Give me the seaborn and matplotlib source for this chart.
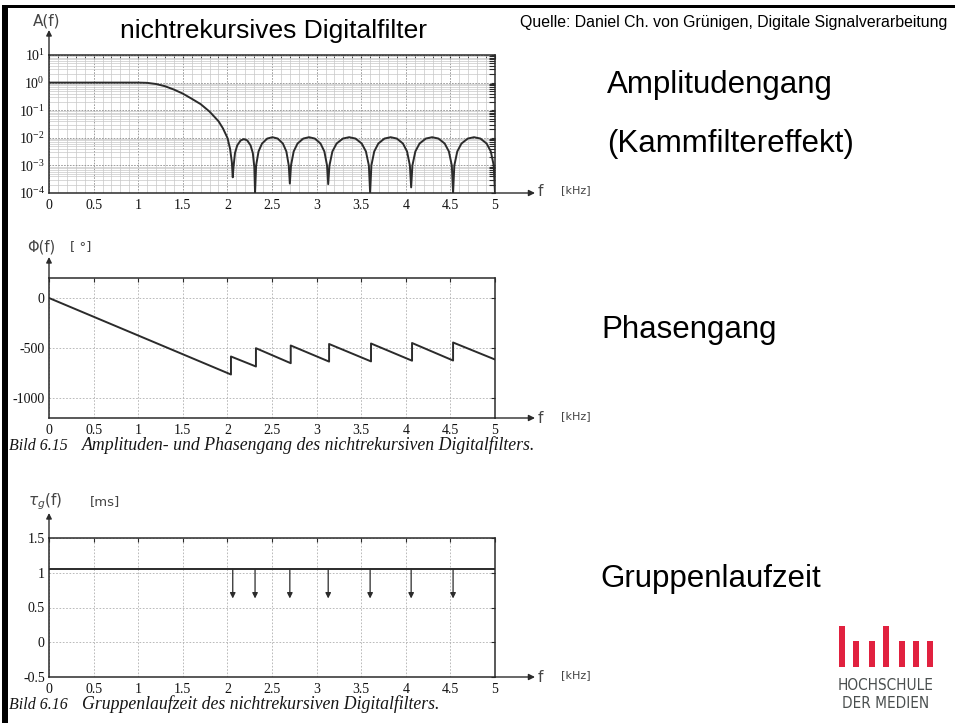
import matplotlib
matplotlib.use("Agg")
import matplotlib.pyplot as plt
import seaborn as sns
import pandas as pd
from matplotlib.ticker import FixedLocator, FixedFormatter, LogLocator, NullFormatter, MultipleLocator
from matplotlib.patches import Rectangle

# ---------------- data ----------------
x_ticks = [0, 0.5, 1, 1.5, 2, 2.5, 3, 3.5, 4, 4.5, 5]
x_tick_labels = ["0", "0.5", "1", "1.5", "2", "2.5", "3", "3.5", "4", "4.5", "5"]

# amplitude response A(f) (log scale)
amp_main_f = [0.0, 0.5, 1.0, 1.1, 1.2, 1.3, 1.4, 1.5, 1.6, 1.7, 1.8, 1.9, 1.95, 2.0, 2.03, 2.05, 2.06]
amp_main_a = [1.0, 1.0, 1.0, 0.98, 0.89, 0.74, 0.56, 0.40, 0.26, 0.166, 0.089, 0.04, 0.022, 0.01, 0.004, 0.0013, 0.00037]
amp_lobe1_f = [2.068, 2.085, 2.11, 2.148, 2.185, 2.223, 2.26, 2.285, 2.302, 2.31]
amp_lobe1_a = [8.5e-4, 2.8e-3, 5.3e-3, 8.0e-3, 9.0e-3, 8.0e-3, 5.3e-3, 2.8e-3, 8.5e-4, 1.0e-4]
amp_lobe2_f = [2.322, 2.349, 2.388, 2.447, 2.505, 2.564, 2.622, 2.661, 2.688, 2.70]
amp_lobe2_a = [9.9e-4, 3.2e-3, 6.2e-3, 9.4e-3, 1.05e-2, 9.4e-3, 6.2e-3, 3.2e-3, 9.9e-4, 2.2e-4]
amp_lobe3_f = [2.713, 2.743, 2.786, 2.851, 2.915, 2.980, 3.044, 3.087, 3.117, 3.13]
amp_lobe3_a = [9.9e-4, 3.2e-3, 6.2e-3, 9.4e-3, 1.05e-2, 9.4e-3, 6.2e-3, 3.2e-3, 9.9e-4, 2.1e-4]
amp_lobe4_f = [3.144, 3.177, 3.224, 3.295, 3.365, 3.436, 3.506, 3.553, 3.586, 3.60]
amp_lobe4_a = [9.9e-4, 3.2e-3, 6.2e-3, 9.4e-3, 1.05e-2, 9.4e-3, 6.2e-3, 3.2e-3, 9.9e-4, 1.0e-4]
amp_lobe5_f = [3.614, 3.646, 3.692, 3.761, 3.83, 3.899, 3.968, 4.014, 4.046, 4.06]
amp_lobe5_a = [9.9e-4, 3.2e-3, 6.2e-3, 9.4e-3, 1.05e-2, 9.4e-3, 6.2e-3, 3.2e-3, 9.9e-4, 1.6e-4]
amp_lobe6_f = [4.074, 4.107, 4.154, 4.225, 4.295, 4.366, 4.436, 4.483, 4.516, 4.53]
amp_lobe6_a = [9.9e-4, 3.2e-3, 6.2e-3, 9.4e-3, 1.05e-2, 9.4e-3, 6.2e-3, 3.2e-3, 9.9e-4, 1.0e-4]
amp_lobe7_f = [4.544, 4.577, 4.624, 4.695, 4.765, 4.836, 4.906, 4.953, 4.986, 5.0]
amp_lobe7_a = [9.9e-4, 3.2e-3, 6.2e-3, 9.4e-3, 1.05e-2, 9.4e-3, 6.2e-3, 3.2e-3, 9.9e-4, 1.0e-4]
amp_yticks = [1e1, 1e0, 1e-1, 1e-2, 1e-3, 1e-4]

# phase response Phi(f) in degrees (jumps of +180 at the zeros)
phase_f = [0.0, 2.04, 2.04, 2.32, 2.32, 2.71, 2.71, 3.14, 3.14, 3.61, 3.61, 4.07, 4.07, 4.53, 4.53, 5.0]
phase_deg = [0, -765, -585, -685, -502, -652, -475, -636, -460, -634, -455, -627, -450, -625, -445, -615]
phase_yticks = [0, -500, -1000]
phase_ytick_labels = ["0", "-500", "-1000"]

# group delay tau_g(f) in ms
gd_f = [0.0, 5.0]
gd_ms = [1.05, 1.05]
gd_zero_f = [2.06, 2.31, 2.70, 3.13, 3.60, 4.06, 4.53]
gd_arrow_tip = 0.63
gd_yticks = [1.5, 1, 0.5, 0, -0.5]
gd_ytick_labels = ["1.5", "1", "0.5", "0", "-0.5"]

# ---------------- style ----------------
sns.set_theme(style="white")
plt.rcParams["font.family"] = ["Liberation Serif", "DejaVu Serif"]
plt.rcParams["axes.unicode_minus"] = False
plt.rcParams["mathtext.fontset"] = "custom"
plt.rcParams["mathtext.rm"] = "Liberation Serif"
plt.rcParams["mathtext.it"] = "Liberation Serif:italic"

W, H = 955, 723
fig = plt.figure(figsize=(W / 100, H / 100), dpi=100)
fig.patch.set_facecolor("white")

def rect(l, t, r, b):
    return [l / W, 1 - b / H, (r - l) / W, (b - t) / H]

def fx(x):
    return x / W

def fy(y):
    return 1 - y / H

INK = "#2b2b2b"
GRID = "#b0b0b0"

def base_axes(ax, yticks, ylabels=None):
    ax.set_xlim(0, 5)
    ax.xaxis.set_major_locator(FixedLocator(x_ticks))
    ax.xaxis.set_major_formatter(FixedFormatter(x_tick_labels))
    ax.yaxis.set_major_locator(FixedLocator(yticks))
    if ylabels is not None:
        ax.yaxis.set_major_formatter(FixedFormatter(ylabels))
    for s in ax.spines.values():
        s.set_color(INK)
        s.set_linewidth(1.1)
        s.set_visible(True)
    ax.tick_params(axis="both", which="major", direction="in", length=3, width=0.8,
                   colors=INK, labelsize=10, labelcolor="#111111", top=True, right=True, pad=3)
    ax.tick_params(axis="x", pad=4)
    ax.set_xlabel("")
    ax.set_ylabel("")
    ax.set_facecolor("white")

def axis_arrows(ax, x_tip_px, y_tip_frac):
    # x-axis extended with an arrow, y-axis extended upward with an arrow
    xr = (x_tip_px - 49) / (495 - 49)
    ax.annotate("", xy=(xr, 0), xytext=(1, 0), xycoords="axes fraction",
                arrowprops=dict(arrowstyle="-|>", color=INK, lw=1.0, mutation_scale=9,
                                shrinkA=0, shrinkB=0))
    ax.annotate("", xy=(0, 1 + y_tip_frac), xytext=(0, 1), xycoords="axes fraction",
                arrowprops=dict(arrowstyle="-|>", color=INK, lw=1.0, mutation_scale=8,
                                shrinkA=0, shrinkB=0))

# ---------------- panel 1: amplitude ----------------
ax1 = fig.add_axes(rect(49, 55, 495, 193))
amp_df = pd.DataFrame({
    "f": amp_main_f + amp_lobe1_f + amp_lobe2_f + amp_lobe3_f + amp_lobe4_f + amp_lobe5_f + amp_lobe6_f + amp_lobe7_f,
    "A": amp_main_a + amp_lobe1_a + amp_lobe2_a + amp_lobe3_a + amp_lobe4_a + amp_lobe5_a + amp_lobe6_a + amp_lobe7_a,
})
ax1.set_yscale("log")
sns.lineplot(data=amp_df, x="f", y="A", ax=ax1, sort=False, estimator=None,
             color=INK, lw=1.4, zorder=5)
ax1.set_ylim(1e-4, 1e1)
base_axes(ax1, amp_yticks)
ax1.yaxis.set_minor_locator(LogLocator(base=10, subs=[2, 3, 4, 5, 6, 7, 8, 9], numticks=20))
ax1.yaxis.set_minor_formatter(NullFormatter())
ax1.xaxis.set_minor_locator(MultipleLocator(0.1))
ax1.tick_params(axis="y", which="minor", direction="in", length=4, width=0.8, colors=INK, right=True)
ax1.tick_params(axis="x", which="minor", direction="in", length=2, width=0.6, colors=INK, top=True)
ax1.grid(True, which="major", color="#8f8f8f", lw=0.6, ls=(0, (2, 1.5)))
ax1.grid(True, which="minor", color="#c8c8c8", lw=0.5, ls="-")
axis_arrows(ax1, 535, 25 / 138)

# ---------------- panel 2: phase ----------------
ax2 = fig.add_axes(rect(49, 278, 495, 418))
phase_df = pd.DataFrame({"f": phase_f, "phi": phase_deg})
sns.lineplot(data=phase_df, x="f", y="phi", ax=ax2, sort=False, estimator=None,
             color=INK, lw=1.4, zorder=5)
ax2.set_ylim(-1200, 200)
base_axes(ax2, phase_yticks, phase_ytick_labels)
ax2.grid(True, which="major", color=GRID, lw=0.6, ls=(0, (2, 2)))
axis_arrows(ax2, 535, 21 / 140)

# ---------------- panel 3: group delay ----------------
ax3 = fig.add_axes(rect(49, 538, 495, 677))
gd_df = pd.DataFrame({"f": gd_f, "tau": gd_ms})
sns.lineplot(data=gd_df, x="f", y="tau", ax=ax3, sort=False, estimator=None,
             color=INK, lw=1.4, zorder=5)
for zf in gd_zero_f:
    ax3.annotate("", xy=(zf, gd_arrow_tip), xytext=(zf, gd_ms[0]), xycoords="data",
                 arrowprops=dict(arrowstyle="-|>", color=INK, lw=0.9, mutation_scale=8,
                                 shrinkA=0, shrinkB=0))
ax3.set_ylim(-0.5, 1.5)
base_axes(ax3, gd_yticks, gd_ytick_labels)
ax3.grid(True, which="major", color=GRID, lw=0.6, ls=(0, (2, 2)))
axis_arrows(ax3, 535, 25 / 139)

# ---------------- axis annotations (hand-lettered in the scan) ----------------
hand = dict(family=["DejaVu Sans"], color="#444444")
fig.text(fx(33), fy(21), "A(f)", fontsize=11, va="center", ha="left", **hand)
fig.text(fx(27), fy(247), "Φ(f)", fontsize=10.5, va="center", ha="left", **hand)
fig.text(fx(70), fy(247), "[ °]", fontsize=9.5, va="center", ha="left", **hand)
fig.text(fx(28), fy(502), r"$\tau_{g}$(f)", fontsize=11, va="center", ha="left",
         math_fontfamily="dejavusans", **hand)
fig.text(fx(90), fy(502), "[ms]", fontsize=9.5, va="center", ha="left", **hand)
for yc in (192, 418, 677):
    fig.text(fx(538), fy(yc), "f", fontsize=11, va="center", ha="left", **hand)
    fig.text(fx(561), fy(yc - 2), "[kHz]", fontsize=8, va="center", ha="left", **hand)

# ---------------- captions ----------------
cap = dict(family=["Liberation Serif"], style="italic", color="#151515", fontsize=12.8)
cap_num = dict(cap, fontsize=11.5)
fig.text(fx(9), fy(450), "Bild 6.15", va="baseline", ha="left", **cap_num)
fig.text(fx(82), fy(450), "Amplituden- und Phasengang des nichtrekursiven Digitalfilters.",
         va="baseline", ha="left", **cap)
fig.text(fx(9), fy(709), "Bild 6.16", va="baseline", ha="left", **cap_num)
fig.text(fx(82), fy(709), "Gruppenlaufzeit des nichtrekursiven Digitalfilters.",
         va="baseline", ha="left", **cap)

# ---------------- slide texts ----------------
sans = dict(family=["Liberation Sans", "DejaVu Sans"], color="black")
fig.text(fx(120), fy(38), "nichtrekursives Digitalfilter", fontsize=19, va="baseline", ha="left", **sans)
fig.text(fx(520), fy(27), "Quelle: Daniel Ch. von Grünigen, Digitale Signalverarbeitung",
         fontsize=11.4, va="baseline", ha="left", **sans)
fig.text(fx(607), fy(93), "Amplitudengang", fontsize=22.5, va="baseline", ha="left", **sans)
fig.text(fx(607), fy(152), "(Kammfiltereffekt)", fontsize=22.5, va="baseline", ha="left", **sans)
fig.text(fx(601), fy(338), "Phasengang", fontsize=22.5, va="baseline", ha="left", **sans)
fig.text(fx(600), fy(587), "Gruppenlaufzeit", fontsize=22.5, va="baseline", ha="left", **sans)

# ---------------- slide frame ----------------
fig.add_artist(Rectangle((fx(2), 0), fx(6), fy(5), transform=fig.transFigure,
                         facecolor="black", edgecolor="none"))
fig.add_artist(Rectangle((fx(2), fy(8)), 1 - fx(2), 3 / H, transform=fig.transFigure,
                         facecolor="black", edgecolor="none"))

# ---------------- logo ----------------
red = "#e1213f"
bar_left = [839, 853, 869, 883, 899, 913, 927]
bar_top = [626, 641, 641, 626, 641, 641, 641]
for bl, bt in zip(bar_left, bar_top):
    fig.add_artist(Rectangle((fx(bl), fy(667)), 5.5 / W, (667 - bt) / H, transform=fig.transFigure,
                             facecolor=red, edgecolor="none"))
logo = dict(family=["DejaVu Sans"], fontstretch="condensed", color="#4a4f4f", fontsize=11)
fig.text(fx(885.5), fy(690), "HOCHSCHULE", va="baseline", ha="center", **logo)
fig.text(fx(885.5), fy(708), "DER MEDIEN", va="baseline", ha="center", **logo)

fig.savefig("out.png", dpi=100, facecolor="white")
